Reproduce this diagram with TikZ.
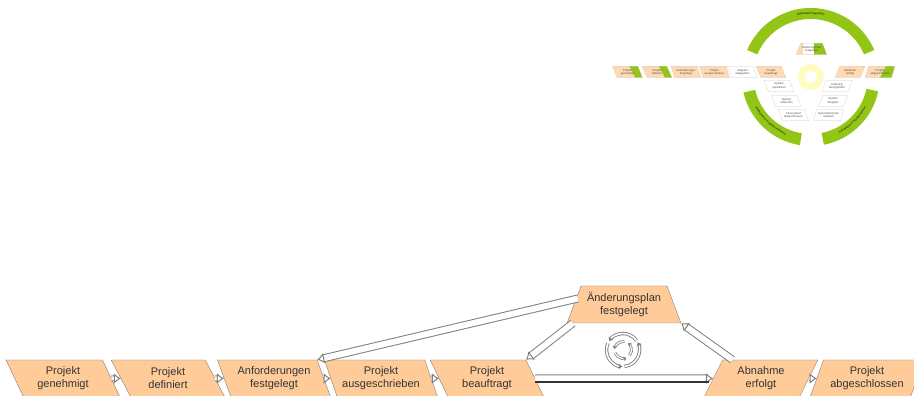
\documentclass[tikz,border=0pt]{standalone}
\usepackage{fontspec}
\setmainfont{Liberation Sans}
\usetikzlibrary{shapes.geometric,arrows.meta,decorations.text}

\definecolor{msorange}{HTML}{FFCC99}
\definecolor{msgreen}{HTML}{92C516}
\definecolor{msedge}{HTML}{808080}

\tikzset{
	%decision points
	forwardpoint/.style={draw=msedge, fill=msorange, trapezium, trapezium stretches=true, trapezium left angle=116, trapezium right angle=64, minimum width=114pt, minimum height=37pt, inner sep=0pt, align=center, text=black!80, font=\fontsize{11}{13}\selectfont},
	backpoint/.style={forwardpoint, trapezium left angle=64, trapezium right angle=116},
	planpoint/.style={forwardpoint, trapezium left angle=64, trapezium right angle=64},
	flowarrow/.style={draw=msedge, line width=1pt, double=white, double distance=4pt, -{Latex[length=7pt,width=11pt,open,fill=white]}},
	%the small copy
	minipoint/.style={draw=msedge!40, line width=0.2pt, fill=#1, trapezium, trapezium stretches=true, trapezium left angle=116, trapezium right angle=64, minimum width=30pt, minimum height=11.5pt, inner sep=0pt, align=center, font=\fontsize{2.8}{3.4}\selectfont, text=black!70},
	minipoint/.default=msorange!75,
	miniback/.style={minipoint=#1, trapezium left angle=64, trapezium right angle=116},
	miniback/.default=msorange!75,
	minigreen/.style={path picture={\fill[msgreen] ([xshift=-13pt]path picture bounding box.north east) -- (path picture bounding box.north east) -- (path picture bounding box.south east) -- ([xshift=-7pt]path picture bounding box.south east) -- cycle;}},
	minigreenback/.style={path picture={\fill[msgreen] ([xshift=-9pt]path picture bounding box.north east) -- (path picture bounding box.north east) -- (path picture bounding box.south east) -- ([xshift=-15pt]path picture bounding box.south east) -- cycle;}},
	miniplanfill/.style={path picture={\fill[white] ([xshift=7pt]path picture bounding box.south west) rectangle ([xshift=18pt]path picture bounding box.north west); \fill[msgreen] ([xshift=18pt]path picture bounding box.south west) rectangle (path picture bounding box.north east);}},
	greenarc/.style={fill=msgreen, draw=none},
	arcsmall/.style={decorate, decoration={text along path, text align=center, text={|\fontsize{2.6}{3}\selectfont|#1}}},
}

\begin{document}
\begin{tikzpicture}[x=1pt,y=1pt]

	\useasboundingbox (0,0) rectangle (914,396);
	\clip (0,0) rectangle (914,396);

	%The large row
	\node[forwardpoint] (genehmigt) at (63,17.5) {Projekt\\genehmigt};
	\node[forwardpoint] (definiert) at (168,17.5) {Projekt\\definiert};
	\node[forwardpoint] (festgelegt) at (274,17.5) {Anforderungen\\festgelegt};
	\node[forwardpoint] (ausgeschrieben) at (381,17.5) {Projekt\\ausgeschrieben};
	\node[forwardpoint] (beauftragt) at (487,17.5) {Projekt\\beauftragt};
	\node[backpoint] (abnahme) at (761,17.5) {Abnahme\\erfolgt};
	\node[backpoint] (abgeschlossen) at (867,17.5) {Projekt\\abgeschlossen};
	\node[planpoint] (plan) at (624,91.5) {Änderungsplan\\festgelegt};

	\draw[flowarrow] (genehmigt.east) -- (definiert.west);
	\draw[flowarrow] (definiert.east) -- (festgelegt.west);
	\draw[flowarrow] (festgelegt.east) -- (ausgeschrieben.west);
	\draw[flowarrow] (ausgeschrieben.east) -- (beauftragt.west);
	\draw[flowarrow] (abnahme.east) -- (abgeschlossen.west);
	\draw[flowarrow, double distance=6pt] (beauftragt.east) -- (abnahme.west);
	\draw[line width=1.6pt, black!80] ([yshift=-3.5pt]beauftragt.east) -- ([shift={(-4,-3.5)}]abnahme.west);
	\draw[flowarrow, double distance=6pt] ([shift={(4,6)}]plan.west) -- (festgelegt.top right corner);
	\draw[flowarrow, double distance=6pt] ([xshift=6pt]plan.bottom left corner) -- (beauftragt.top right corner);
	\draw[flowarrow, double distance=6pt] ([xshift=10pt]abnahme.top left corner) -- (plan.bottom right corner);

	%The cycle sign
	\foreach \a in {0,120,240} {
		\draw[msedge, line width=0.9pt, double=white, double distance=1.6pt, -{Latex[length=3.5pt,width=6pt]}] (623,46) ++(\a+35:16.5) arc (\a+35:\a+148:16.5);
		\draw[msedge, line width=0.8pt, double=white, double distance=1.2pt, -{Latex[length=3pt,width=5pt]}] (623,46) ++(\a+80:8.5) arc (\a+80:\a+175:8.5);
	}

	%The green arcs of the small copy
	\fill[greenarc] (810.7,319) ++(23:69) arc (23:157:69) -- ++(157:-11) arc (157:23:58) -- cycle;
	\fill[greenarc] (810.7,319) ++(193:69) arc (193:261:69) -- ++(261:-12) arc (261:193:57) -- cycle;
	\fill[greenarc] (810.7,319) ++(-12:69) arc (-12:-79:69) -- ++(-79:-12) arc (-79:-12:57) -- cycle;
	\path[arcsmall={Organisationsspezifisch}] (810.7,319) ++(125:63) arc (125:55:63);
	\path[arcsmall={Auftragnehmer Projektdurchführung}] (810.7,319) ++(200:63) arc (200:255:63);
	\path[arcsmall={Auftragnehmer Projektabschluss}] (810.7,319) ++(-72:63) arc (-72:-20:63);

	%The ring of the small copy
	\draw[yellow!25, line width=7pt] (810.7,319) circle (9.5);

	%The row of the small copy
	\node[minipoint, minigreen] (minigenehmigt) at (627.5,324) {Projekt\\genehmigt};
	\node[minipoint, minigreen] (minidefiniert) at (657,324) {Projekt\\definiert};
	\node[minipoint] (minifestgelegt) at (686,324) {Anforderungen\\festgelegt};
	\node[minipoint] (miniausgeschrieben) at (714.5,324) {Projekt\\ausgeschrieben};
	\node[minipoint=white] (miniangebot) at (742.5,324) {Angebot\\abgegeben};
	\node[minipoint] (minibeauftragt) at (771,324) {Projekt\\beauftragt};
	\node[minipoint=white] (minispezifiziert) at (779,310) {System\\spezifiziert};
	\node[minipoint=white] (minientworfen) at (786.5,295) {System\\entworfen};
	\node[minipoint=white] (minifeinentwurf) at (793.5,281) {Feinentwurf\\abgeschlossen};
	\node[miniback] (miniabnahme) at (850,324) {Abnahme\\erfolgt};
	\node[miniback, minigreenback] (miniabgeschlossen) at (880,324) {Projekt\\abgeschlossen};
	\node[miniback=white] (minilieferung) at (837,310) {Lieferung\\durchgeführt};
	\node[miniback=white] (miniintegriert) at (833,295) {System\\integriert};
	\node[miniback=white] (minirealisiert) at (828.5,281) {Systemelemente\\realisiert};
	\node[minipoint, miniplanfill, trapezium left angle=58, trapezium right angle=58, minimum width=31pt] (miniplan) at (811.5,347) {Änderungsplan\\festgelegt};

\end{tikzpicture}
\end{document}
